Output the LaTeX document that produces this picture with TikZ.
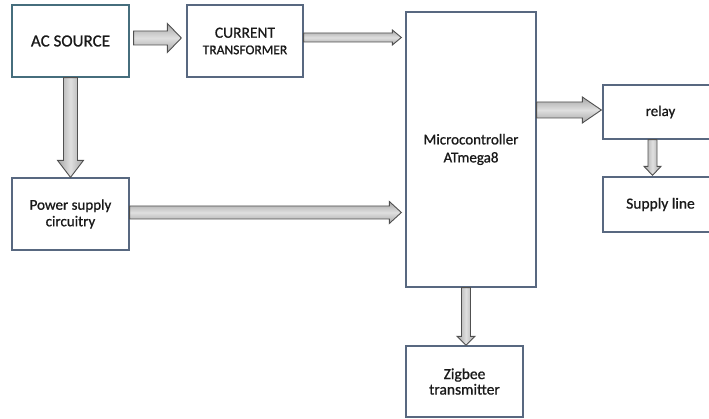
\documentclass[tikz,border=0pt]{standalone}
\usepackage{fontspec}
\setmainfont{Carlito}[FakeBold=0.8]
\usetikzlibrary{calc}
\definecolor{boxline}{RGB}{88,104,128}
\definecolor{acline}{RGB}{70,110,125}
\definecolor{txt}{RGB}{25,25,25}
\definecolor{arrline}{RGB}{80,80,80}
\tikzset{
  blk/.style={draw=boxline, line width=1.3pt, fill=white, minimum width=#1, inner sep=0pt, align=center, text=txt, font=\fontsize{15}{17.5}\selectfont},
  blkh/.style={draw=arrline, line width=0.9pt, top color=gray!70, bottom color=gray!70, middle color=gray!25},
  blkv/.style={draw=arrline, line width=0.9pt, left color=gray!70, right color=gray!70, middle color=gray!25},
}
\newcommand\harr[5]{\path[blkh] let \p1=(#1), \p2=(#2) in (\x1,\y1+#3) -- (\x2-#5,\y1+#3) -- (\x2-#5,\y1+#4) -- (\x2,\y1) -- (\x2-#5,\y1-#4) -- (\x2-#5,\y1-#3) -- (\x1,\y1-#3) -- cycle;}
\newcommand\varr[5]{\path[blkv] let \p1=(#1), \p2=(#2) in (\x1+#3,\y1) -- (\x1+#3,\y2+#5) -- (\x1+#4,\y2+#5) -- (\x1,\y2) -- (\x1-#4,\y2+#5) -- (\x1-#3,\y2+#5) -- (\x1-#3,\y1) -- cycle;}
\begin{document}
\begin{tikzpicture}[x=1pt,y=-1pt]
\useasboundingbox (0,0) rectangle (709,419);
\clip (0,0) rectangle (709,419);
\fill[white] (0,0) rectangle (709,419);
\node[blk=117pt, minimum height=72pt, draw=acline, font=\fontsize{17}{19}\selectfont] (ac) at (70.5,41) {AC SOURCE};
\node[blk=116pt, minimum height=72pt] (ct) at (245,41) {\fontsize{15.5}{15}\selectfont CURRENT\\[-1pt]\fontsize{13.5}{14}\selectfont TRANSFORMER};
\node[blk=130pt, minimum height=275pt, font=\fontsize{15}{18}\selectfont] (mc) at (471,149.5) {Microcontroller\\ATmega8};
\node[blk=117pt, minimum height=72pt, font=\fontsize{15}{16.5}\selectfont] (ps) at (70.5,214) {Power supply\\circuitry};
\node[blk=115pt, minimum height=54pt] (relay) at (660.5,112) {relay};
\node[blk=115pt, minimum height=55pt, font=\fontsize{15.5}{17}\selectfont] (sl) at (660.5,204.5) {Supply line};
\node[blk=117pt, minimum height=71pt, font=\fontsize{15.5}{15.5}\selectfont] (zb) at (464.5,381.5) {Zigbee\\transmitter};
\harr{$(ac.east)+(4,-3)$}{$(ct.west)+(-5,0)$}{7pt}{14.5pt}{14pt}
\harr{$(ct.east)+(0,-3.5)$}{$(mc.west)+(-4,0)$}{4.5pt}{7.5pt}{9pt}
\harr{$(ps.east)+(0,-1.5)$}{$(mc.west)+(-4,0)$}{6.5pt}{11pt}{12pt}
\harr{$(mc.east |- relay.west)+(0,-2)$}{$(relay.west)+(-1,0)$}{8pt}{13pt}{19pt}
\varr{ac.south}{ps.north}{7pt}{13pt}{17pt}
\varr{$(relay.south)+(-8,0)$}{$(sl.north)+(0,-1)$}{4.5pt}{8.5pt}{9pt}
\varr{$(mc.south)+(-5,0)$}{zb.north}{4.5pt}{9pt}{9pt}
\end{tikzpicture}
\end{document}
